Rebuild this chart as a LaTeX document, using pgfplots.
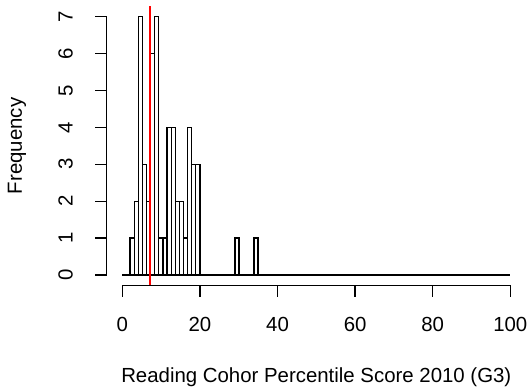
\documentclass[border=0pt]{standalone}
\usepackage{fontspec}
\setmainfont{Liberation Sans}
\usepackage{pgfplots}
\pgfplotsset{compat=1.18}
\begin{document}
\fontsize{20.4}{24}\selectfont
\begin{tikzpicture}
\begin{axis}[name=ax, scale only axis, width=419pt, height=278.9pt,
  xmin=-4, xmax=104, ymin=-0.28, ymax=7.28,
  clip=false,
  axis line style={draw=none},
  xtick={0,20,40,60,80,100}, ytick={0,1,2,3,4,5,6,7},
  tick align=outside, xtick pos=bottom, ytick pos=left,
  major tick length=11.7pt,
  tick style={black, line width=1.3pt},
  /pgf/number format/assume math mode=true,
  ticklabel style={font=\fontsize{20.4}{24}\selectfont},
  xticklabel style={anchor=base, inner sep=0pt},
  yticklabel style={rotate=90, anchor=base, inner sep=0pt},
  xticklabel shift=34.7pt, yticklabel shift=22.5pt,
  xlabel={Reading Cohor Percentile Score 2010 (G3)},
  ylabel={Frequency},
  xlabel style={anchor=base, inner sep=0pt, at={(axis description cs:0.5,-0.3492)}},
  ylabel style={anchor=base, inner sep=0pt, at={(axis description cs:-0.2024,0.5)}},
]
\addplot[black, line width=1.3pt] coordinates {(0,0) (100,0)};
\addplot[ybar interval, draw=black, fill=none, line width=1.3pt] coordinates {
(2.00,1) (3.06,2) (4.12,7) (5.18,3) (6.24,2) (7.29,6) (8.35,7) (9.41,1) (10.47,1)
(11.53,4) (12.59,4) (13.65,2) (14.71,2) (15.76,1) (16.82,4) (17.88,3) (18.94,3) (20.00,0)};
\addplot[ybar interval, draw=black, fill=none, line width=1.3pt] coordinates {(29.04,1) (30.10,0)};
\addplot[ybar interval, draw=black, fill=none, line width=1.3pt] coordinates {(33.95,1) (35.01,0)};
\addplot[red, line width=1.4pt] coordinates {(7.10,-0.28) (7.10,7.28)};
\draw[line width=1.3pt] (axis cs:0,-0.28) -- (axis cs:100,-0.28);
\draw[line width=1.3pt] (axis cs:-4,0) -- (axis cs:-4,7);
\end{axis}
\pgfresetboundingbox
\path ([shift={(-106.8pt,-106.7pt)}]ax.south west) rectangle ([shift={(2.2pt,6.4pt)}]ax.north east);
\end{tikzpicture}
\end{document}
